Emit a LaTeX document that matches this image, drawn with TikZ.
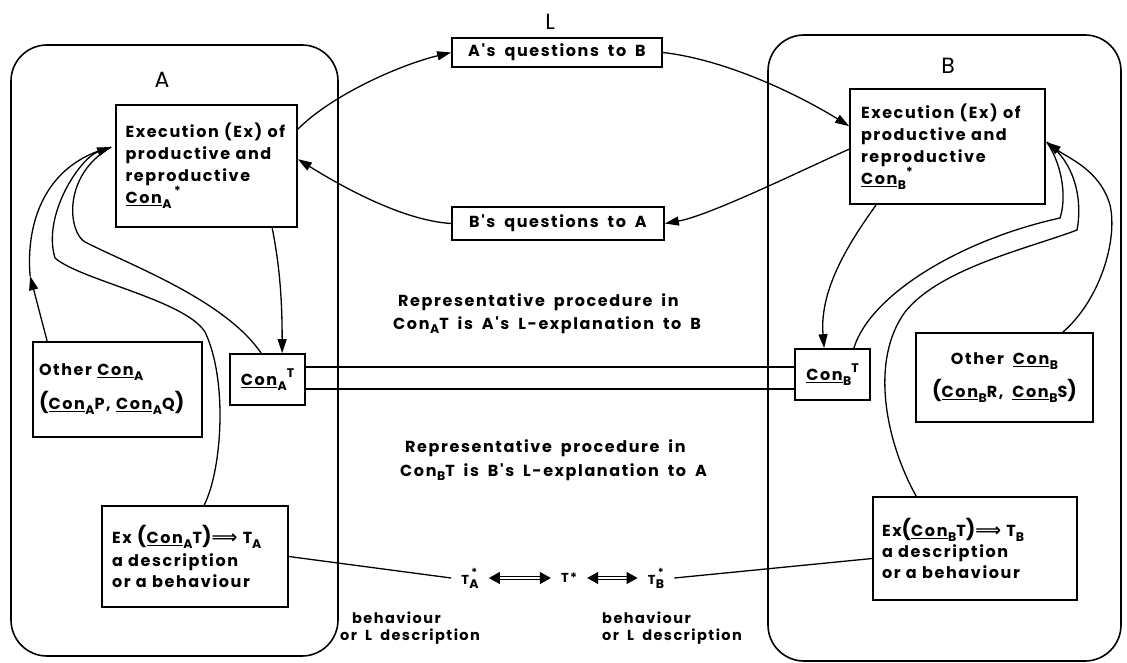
\documentclass[tikz,border=0pt]{standalone}
\usepackage{fontspec}
\setmainfont{Poppins}
\newfontfamily\lblfont{Poppins}[LetterSpace=10, WordSpace=1.8]
\newfontfamily\ttlfont{Poppins}
\newfontfamily\symfont{DejaVu Sans}
\usetikzlibrary{arrows.meta,calc}

% text helpers: underlined "Con" with a lowered index, raised marks
\newcommand\hsub[1]{\raisebox{-0.55ex}{\fontsize{12.5}{12.5}\selectfont #1}}
\newcommand\hsup[1]{\raisebox{0.9ex}{\fontsize{12.5}{12.5}\selectfont #1}}
\newcommand\cn[1]{\underline{Con}\kern0.5pt\hsub{#1}}
\newcommand\pcn[1]{Con\kern0.5pt\hsub{#1}}
\newcommand\bigp[1]{{\fontsize{20}{20}\selectfont #1}}
\newcommand\tst[1]{T\kern0.5pt\rlap{\raisebox{1.1ex}{\fontsize{11}{11}\selectfont\,*}}\hsub{#1}}
\newcommand\impl{{\symfont\bfseries\fontsize{18}{18}\selectfont ⟹}}
\newcommand\bx{\lblfont\bfseries\fontsize{16}{22}\selectfont}
\newcommand\sx{\lblfont\bfseries\fontsize{14.5}{17}\selectfont}

\begin{document}
\begin{tikzpicture}[x=1pt,y=-1pt,
  box/.style={draw, line width=1.7pt, inner sep=0pt, font=\bx},
  agent/.style={draw, line width=1.6pt, rounded corners=36pt},
  title/.style={font=\ttlfont\fontsize{22}{22}\selectfont, inner sep=0pt},
  arr/.style={line width=1.3pt, -{Triangle[length=14pt,width=9pt]}},
  ln/.style={line width=1.3pt},
  dbl/.style={double, double distance=2.4pt, line width=1pt,
    {Triangle[length=11pt,width=12pt]}-{Triangle[length=11pt,width=12pt]}},
  mid/.style={font=\bx, inner sep=0pt, anchor=base west},
  tnode/.style={font=\lblfont\bfseries\fontsize{13}{13}\selectfont, inner ysep=2pt, inner xsep=10pt}]

\useasboundingbox (0,0) rectangle (1127,663);

% the two agents
\draw[agent] (11,45) rectangle (338,656);
\draw[agent] (768,35) rectangle (1121,661);
\node[title] (labA) at (162,80) {A};
\node[title] (labB) at (948,66) {B};
\node[title] (labL) at (550,22) {L};

% boxes of agent A
\node[box, minimum width=181pt, minimum height=122pt, text width=162pt, align=left] (ExA) at (206.5,166)
  {Execution (Ex) of\\productive and\\reproductive\\\cn{A}\,\hsup{*}};
\node[box, minimum width=75pt, minimum height=51pt] (ConAT) at (267.5,379.5) {\cn{A}\hsup{T}};
\node[box, minimum width=169pt, minimum height=95pt, text width=157pt, align=left,
  font=\lblfont\bfseries\fontsize{16}{34}\selectfont] (OthA) at (117.5,389.5)
  {Other \cn{A}\\\bigp{(}\cn{A}P, \cn{A}Q\bigp{)}};
\node[box, minimum width=186pt, minimum height=101pt, text width=166pt, align=left,
  font=\lblfont\bfseries\fontsize{16}{21}\selectfont] (ExCA) at (195,556.5)
  {Ex \bigp{(}\cn{A}T\bigp{)}\impl{} T\hsub{A}\rule[-9pt]{0pt}{9pt}\\a description\\or a behaviour};

% boxes of agent B
\node[box, minimum width=195pt, minimum height=115pt, text width=173pt, align=left] (ExB) at (947.5,146.5)
  {Execution (Ex) of\\productive and\\reproductive\\\cn{B}\hsup{*}};
\node[box, minimum width=75pt, minimum height=51pt] (ConBT) at (832.5,374.5) {\cn{B}\hsup{T}};
\node[box, minimum width=177pt, minimum height=89pt, align=center,
  font=\lblfont\bfseries\fontsize{16}{33}\selectfont] (OthB) at (1004.5,377.5)
  {Other \cn{B}\\\bigp{(}\cn{B}R, \cn{B}S\bigp{)}};
\node[box, minimum width=204pt, minimum height=103pt, text width=186pt, align=left,
  font=\lblfont\bfseries\fontsize{16}{21}\selectfont] (ExCB) at (975,548.5)
  {Ex\bigp{(}\cn{B}T\bigp{)}\impl{} T\hsub{B}\rule[-4pt]{0pt}{4pt}\\a description\\or a behaviour};

% questions exchanged through L
\node[box, minimum width=210pt, minimum height=29pt] (Aq) at (557,52.5) {A's questions to B};
\node[box, minimum width=212pt, minimum height=33pt] (Bq) at (558,223.5) {B's questions to A};

% explanations
\node[mid] (r1a) at (398,306) {Representative procedure in};
\node[mid] (r1b) at (393,329) {\pcn{A}T is A's L-explanation to B};
\node[mid] (r2a) at (405,452) {Representative procedure in};
\node[mid] (r2b) at (400,476) {\pcn{B}T is B's L-explanation to A};

% common T row
\node[tnode] (TsA) at (470,578) {\tst{A}};
\node[tnode] (Ts)  at (569,578) {T*};
\node[tnode] (TsB) at (656,578) {\tst{B}};
\node[font=\sx, align=left, anchor=north west, inner sep=0pt] (bhA) at (340,612)
  {\hspace{12pt}behaviour\\or L description};
\node[font=\sx, align=left, anchor=north west, inner sep=0pt] (bhB) at (602,612)
  {behaviour\\or L description};

\coordinate (l1) at (0,367);
\coordinate (l2) at (0,389);
\coordinate (tipA) at ($(ExA.north west)+(-4,43)$);
\coordinate (tipB) at ($(ExB.north east)+(1,54)$);
\coordinate (midA) at ($(OthA.north west)+(-2,-65)$);

% question loop
\draw[arr] ($(ExA.north east)+(0,25)$) .. controls +(35,-35) and +(-50,12) .. (Aq.west);
\draw[arr] (Aq.east) .. controls +(70,8) and +(-40,-25) .. ($(ExB.north west)+(0,38)$);
\draw[arr] ($(ExB.north west)+(0,61)$) .. controls +(-45,20) and +(45,-8) .. (Bq.east);
\draw[arr] (Bq.west) .. controls +(-50,-3) and +(40,25) .. ($(ExA.north east)+(0,55)$);

% execution to translation
\draw[arr] ($(ExA.south west)+(157,0)$) .. controls +(8,40) and +(0,-50) .. ($(ConAT.north west)+(53,0)$);
\draw[arr] ($(ExB.south west)+(27,0)$) .. controls +(-25,35) and +(-5,-60) .. ($(ConBT.north west)+(30,0)$);

% feedback into A's execution
\draw[ln] ($(ConAT.north west)+(32,0)$) .. controls (225,300) and (130,265) .. (85,242)
  .. controls (68,232) and (62,175) .. (tipA);
\draw[arr] ($(ExCA.north west)+(103,0)$) .. controls (222,470) and (228,380) .. (205,332)
  .. controls (185,300) and (80,280) .. (55,258) .. controls (42,215) and (80,158) .. (tipA);
\draw[arr] ($(OthA.north west)+(15,0)$) -- (midA);
\draw[ln] (midA) .. controls (26,230) and (40,165) .. (tipA);

% feedback into B's execution
\draw[ln] ($(ConBT.north east)+(-17,0)$) .. controls (870,295) and (960,240) .. (1060,218)
  .. controls (1066,200) and (1064,168) .. (tipB);
\draw[ln] ($(ExCB.north west)+(44,0)$) .. controls (885,440) and (870,360) .. (905,312)
  .. controls (940,268) and (1030,248) .. (1077,230) .. controls (1082,205) and (1078,165) .. (tipB);
\draw[arr] ($(OthB.north east)+(-31,0)$) .. controls (1100,300) and (1118,240) .. (1110,205)
  .. controls (1100,170) and (1068,158) .. (tipB);

% the two translation channels
\draw[ln] (ConAT.east |- l1) -- (ConBT.west |- l1);
\draw[ln] (ConAT.east |- l2) -- (ConBT.west |- l2);

% results compared in the common T
\draw[ln] (ExCA.east) -- (TsA.west);
\draw[ln] (TsB.east) -- ($(ExCB.west)+(0,10)$);
\draw[dbl] (TsA) -- (Ts);
\draw[dbl] (Ts) -- (TsB);
\end{tikzpicture}
\end{document}
